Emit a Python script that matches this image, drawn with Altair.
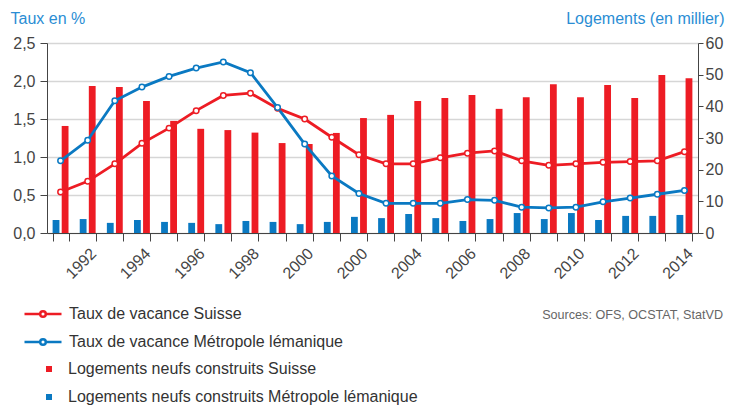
import altair as alt
import pandas as pd

years = list(range(1991, 2015))
taux_suisse = [0.54, 0.68, 0.91, 1.18, 1.38, 1.61, 1.81, 1.84, 1.64, 1.50, 1.26, 1.03,
               0.91, 0.91, 0.99, 1.05, 1.08, 0.95, 0.89, 0.91, 0.93, 0.94, 0.95, 1.07]
taux_leman = [0.95, 1.22, 1.74, 1.92, 2.06, 2.17, 2.25, 2.11, 1.65, 1.17, 0.75, 0.52,
              0.39, 0.39, 0.39, 0.44, 0.43, 0.34, 0.33, 0.34, 0.41, 0.46, 0.51, 0.56]
logements_suisse = [33.8, 46.4, 46.1, 41.7, 35.4, 32.9, 32.5, 31.7, 28.4, 28.1, 31.6, 36.3,
                    37.3, 41.7, 42.6, 43.6, 39.2, 42.9, 47.0, 42.9, 46.7, 42.6, 49.9, 48.9]
logements_leman = [4.1, 4.4, 3.2, 4.1, 3.5, 3.2, 2.8, 3.8, 3.5, 2.8, 3.5, 5.1,
                   4.7, 6.0, 4.7, 3.8, 4.4, 6.3, 4.4, 6.3, 4.1, 5.4, 5.4, 5.7]
sources = ["Sources: OFS, OCSTAT, StatVD"]

L_TS = "Taux de vacance Suisse"
L_TL = "Taux de vacance Métropole lémanique"
L_LS = "Logements neufs construits Suisse"
L_LL = "Logements neufs construits Métropole lémanique"

RED = "#ED1C24"
BLUE = "#0A79C2"
TITLE_BLUE = "#2A8DD4"
FONT = "Liberation Sans"

lines_df = pd.DataFrame(
    {"year": years * 2,
     "serie": [L_TS] * len(years) + [L_TL] * len(years),
     "value": taux_suisse + taux_leman})
bars_df = pd.DataFrame(
    {"year": years * 2,
     "serie": [L_LS] * len(years) + [L_LL] * len(years),
     "value": logements_suisse + logements_leman})
src_df = pd.DataFrame({"t": sources})

x_scale = alt.Scale(paddingInner=0.414, paddingOuter=0.207)
x_axis = alt.Axis(
    title=None, labelAngle=-45, tickBand="extent", tickSize=8,
    labelExpr="datum.value % 2 == 0 ? (datum.value == 2002 ? '2000' : '' + datum.value) : ''",
    labelFontSize=16, labelColor="#444", labelFont=FONT, labelPadding=4, labelOffset=0,
    labelOverlap=False, domainColor="#444", tickColor="#444", grid=False)

sym_path = ("M-1,0L-0.151,0M0.151,0L1,0"
            "M-0.151,0A0.151,0.151,0,1,0,0.151,0A0.151,0.151,0,1,0,-0.151,0Z")

stroke_enc = alt.Stroke(
    "serie:N",
    scale=alt.Scale(domain=[L_TS, L_TL], range=[RED, BLUE]),
    legend=alt.Legend(title=None, orient="none", legendX=-24, legendY=251,
                      symbolType=sym_path, symbolSize=1369, symbolStrokeWidth=2.5,
                      symbolFillColor="white", labelFontSize=16, labelFont=FONT,
                      labelColor="#333", labelOffset=6, labelLimit=500, rowPadding=-7))

y_left = alt.Y(
    "value:Q", scale=alt.Scale(domain=[0, 2.5]),
    axis=alt.Axis(values=[0, 0.5, 1, 1.5, 2, 2.5], labelOverlap=False, tickCount=6,
                  labelExpr="replace(format(datum.value, '.1f'), '.', ',')",
                  title="Taux en %", titleAngle=0, titleAlign="left", titleBaseline="alphabetic",
                  titleX=-37, titleY=-20, titleColor=TITLE_BLUE, titleFontSize=16,
                  titleFontWeight="normal", titleFont=FONT,
                  labelFontSize=16, labelFont=FONT, labelColor="#444", labelPadding=5,
                  tickSize=7, tickColor="#444", domainColor="#444",
                  grid=True, gridColor="#D6D6D6", gridWidth=1.6))

y_right = alt.Y(
    "value:Q", scale=alt.Scale(domain=[0, 60]),
    axis=alt.Axis(orient="right", values=[0, 10, 20, 30, 40, 50, 60], labelOverlap=False,
                  title="Logements (en millier)", titleAngle=0, titleAlign="right",
                  titleBaseline="alphabetic", titleX=26, titleY=-20, titleColor=TITLE_BLUE,
                  titleFontSize=16, titleFontWeight="normal", titleFont=FONT,
                  labelFontSize=16, labelFont=FONT, labelColor="#444", labelPadding=2,
                  tickSize=5, tickColor="#444", domainColor="#444", grid=False))

bars = alt.Chart(bars_df).mark_bar().encode(
    x=alt.X("year:O", scale=x_scale, axis=x_axis),
    xOffset=alt.XOffset("serie:N", scale=alt.Scale(domain=[L_LL, L_LS], paddingInner=0.25)),
    y=y_right,
    fill=alt.Fill("serie:N",
                  scale=alt.Scale(domain=[L_LS, L_LL], range=[RED, BLUE]),
                  legend=alt.Legend(title=None, orient="none", legendX=-6, legendY=318,
                                    symbolType="square", symbolSize=36, symbolStrokeWidth=0,
                                    labelFontSize=16, labelFont=FONT, labelColor="#333",
                                    labelOffset=11, labelLimit=500, rowPadding=12)),
)

line = alt.Chart(lines_df).mark_line(strokeWidth=2.8).encode(
    x=alt.X("year:O", scale=x_scale, axis=x_axis),
    y=y_left,
    stroke=stroke_enc,
    order=alt.Order("year:O"),
)
pts = alt.Chart(lines_df).mark_point(filled=True, size=30, strokeWidth=1.5, opacity=1).encode(
    x=alt.X("year:O", scale=x_scale, axis=x_axis),
    y=y_left,
    stroke=stroke_enc,
    fill=alt.value("white"),
)

src = alt.Chart(src_df).mark_text(
    align="right", baseline="middle", fontSize=12.6, font=FONT, color="#666"
).encode(x=alt.value(676), y=alt.value(272), text="t:N")

chart = alt.layer(bars, line + pts, src).resolve_scale(y="independent").properties(
    width=651, height=190,
    autosize=alt.AutoSizeParams(type="none"),
    padding={"left": 39, "top": 35, "right": 27, "bottom": 172},
).configure_view(stroke=None).configure(background="white")

chart.save("out.html", embed_options={"renderer": "svg", "actions": False})
